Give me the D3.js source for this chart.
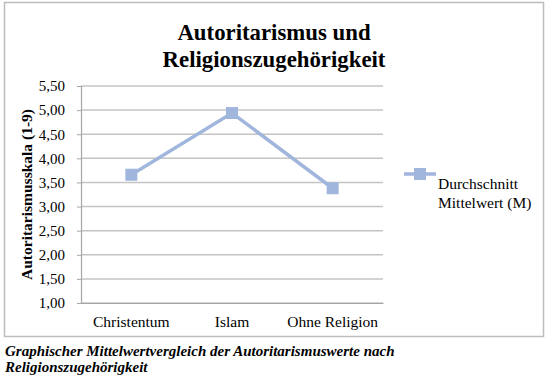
<!DOCTYPE html>
<html>
<head>
<meta charset="utf-8">
<script src="https://cdn.jsdelivr.net/npm/d3@7"></script>
<style>
  body { margin: 0; background: #fff; }
</style>
</head>
<body>
<div id="chart"></div>
<script>
const categories = ["Christentum", "Islam", "Ohne Religion"];
const values = [3.66, 4.94, 3.38];
const yTicks = [1, 1.5, 2, 2.5, 3, 3.5, 4, 4.5, 5, 5.5];
const seriesName = ["Durchschnitt", "Mittelwert (M)"];
const titleLines = ["Autoritarismus und", "Religionszugehörigkeit"];
const yTitle = "Autoritarismusskala (1-9)";
const captionLines = ["Graphischer Mittelwertvergleich der Autoritarismuswerte nach", "Religionszugehörigkeit"];

const width = 548, height = 377;
const marginLeft = 81, marginRight = 165, marginTop = 86, marginBottom = 74;
const lineColor = "#a0b6dc";
const serif = "'Liberation Serif', 'Times New Roman', serif";

const svg = d3.select("#chart").append("svg")
  .attr("width", width).attr("height", height);

// chart frame
svg.append("rect")
  .attr("x", 4.5).attr("y", 2.5)
  .attr("width", 539).attr("height", 334)
  .attr("fill", "#fff").attr("stroke", "#bdbdbd").attr("stroke-width", 1.5);

const x = d3.scaleBand()
  .domain(categories)
  .range([marginLeft, width - marginRight]);

const y = d3.scaleLinear()
  .domain([1, 5.5])
  .range([height - marginBottom, marginTop]);

// gridlines
svg.append("g")
  .selectAll("line")
  .data(yTicks)
  .join("line")
  .attr("x1", marginLeft).attr("x2", width - marginRight)
  .attr("y1", d => y(d)).attr("y2", d => y(d))
  .attr("stroke", "#c4c4c4").attr("stroke-width", 1.5);

// y axis
const yAxis = svg.append("g")
  .attr("transform", `translate(${marginLeft},0)`)
  .call(d3.axisLeft(y).tickValues(yTicks).tickSize(4).tickPadding(12)
    .tickFormat(d => d3.format(".2f")(d).replace(".", ",")));
yAxis.select(".domain").attr("stroke", "#a6a6a6").attr("stroke-width", 1.2);
yAxis.selectAll(".tick line").attr("stroke", "#a6a6a6");
yAxis.selectAll("text")
  .attr("fill", "#000")
  .style("font-family", serif)
  .style("font-size", "15px");

// x axis labels
const xAxis = svg.append("g")
  .attr("transform", `translate(0,${height - marginBottom})`)
  .call(d3.axisBottom(x).tickSize(0).tickPadding(13));
xAxis.select(".domain").attr("stroke", "#a6a6a6").attr("stroke-width", 1.2);
xAxis.selectAll("text")
  .attr("fill", "#000")
  .style("font-family", serif)
  .style("font-size", "15.5px");

// line + markers
const line = d3.line()
  .x((d, i) => x(categories[i]) + x.bandwidth() / 2)
  .y(d => y(d));

svg.append("path")
  .datum(values)
  .attr("d", line)
  .attr("fill", "none")
  .attr("stroke", lineColor)
  .attr("stroke-width", 3.5);

svg.selectAll(".marker")
  .data(values)
  .join("rect")
  .attr("class", "marker")
  .attr("x", (d, i) => x(categories[i]) + x.bandwidth() / 2 - 6)
  .attr("y", d => y(d) - 6)
  .attr("width", 12).attr("height", 12)
  .attr("fill", lineColor);

// title
svg.append("text")
  .attr("x", 274).attr("y", 40)
  .attr("text-anchor", "middle")
  .style("font-family", serif)
  .style("font-weight", "bold")
  .style("font-size", "22.8px")
  .selectAll("tspan")
  .data(titleLines)
  .join("tspan")
  .attr("x", 274)
  .attr("dy", (d, i) => i ? 27 : 0)
  .text(d => d);

// y axis title
svg.append("text")
  .attr("transform", `translate(32,${(marginTop + height - marginBottom) / 2}) rotate(-90)`)
  .attr("text-anchor", "middle")
  .style("font-family", serif)
  .style("font-weight", "bold")
  .style("font-size", "15.5px")
  .text(yTitle);

// legend
const lg = svg.append("g").attr("transform", "translate(404,174)");
lg.append("line")
  .attr("x1", 0).attr("x2", 32)
  .attr("stroke", lineColor).attr("stroke-width", 3.5);
lg.append("rect")
  .attr("x", 10).attr("y", -6).attr("width", 12).attr("height", 12)
  .attr("fill", lineColor);
lg.append("text")
  .attr("y", 15)
  .style("font-family", serif)
  .style("font-size", "15.5px")
  .selectAll("tspan")
  .data(seriesName)
  .join("tspan")
  .attr("x", 34)
  .attr("dy", (d, i) => i ? 19 : 0)
  .text(d => d);

// caption
svg.append("text")
  .attr("y", 356)
  .style("font-family", serif)
  .style("font-weight", "bold")
  .style("font-style", "italic")
  .style("font-size", "15px")
  .selectAll("tspan")
  .data(captionLines)
  .join("tspan")
  .attr("x", 5)
  .attr("dy", (d, i) => i ? 16 : 0)
  .text(d => d);
</script>
</body>
</html>
